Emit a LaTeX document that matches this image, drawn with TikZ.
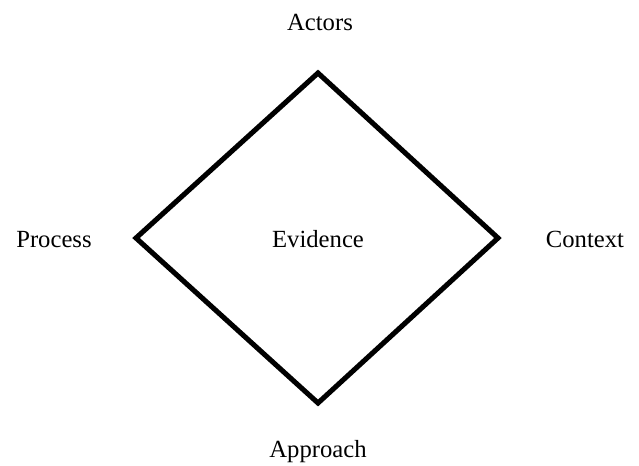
\documentclass[tikz,border=0pt]{standalone}
\usepackage{fontspec}
\setmainfont{Liberation Serif}
\usetikzlibrary{positioning}

\begin{document}
\begin{tikzpicture}[x=0.75pt,y=-0.75pt,every node/.style={font=\fontsize{18.5}{21}\selectfont,inner sep=0pt,anchor=base}]

      \useasboundingbox (0,0) rectangle (639,465);

      % draw the corners of the rhombus
      \coordinate (top) at (318,73);
      \coordinate (right) at (498,238);
      \coordinate (bottom) at (318,403);
      \coordinate (left) at (136,238);

      \draw [line width=3.8pt,line join=miter] (top) -- (right) -- (bottom) -- (left) -- cycle;

      % label all the corners
      \def\labels{320/30/actors/{Actors}, 54/247/process/{Process}, 318/247/evidence/{Evidence}, 585/247/context/{Context}, 318/457/approach/{Approach}}
      \foreach \px/\py/\nm/\txt in \labels
      \node (\nm) at (\px,\py) {\txt};

\end{tikzpicture}
\end{document}
